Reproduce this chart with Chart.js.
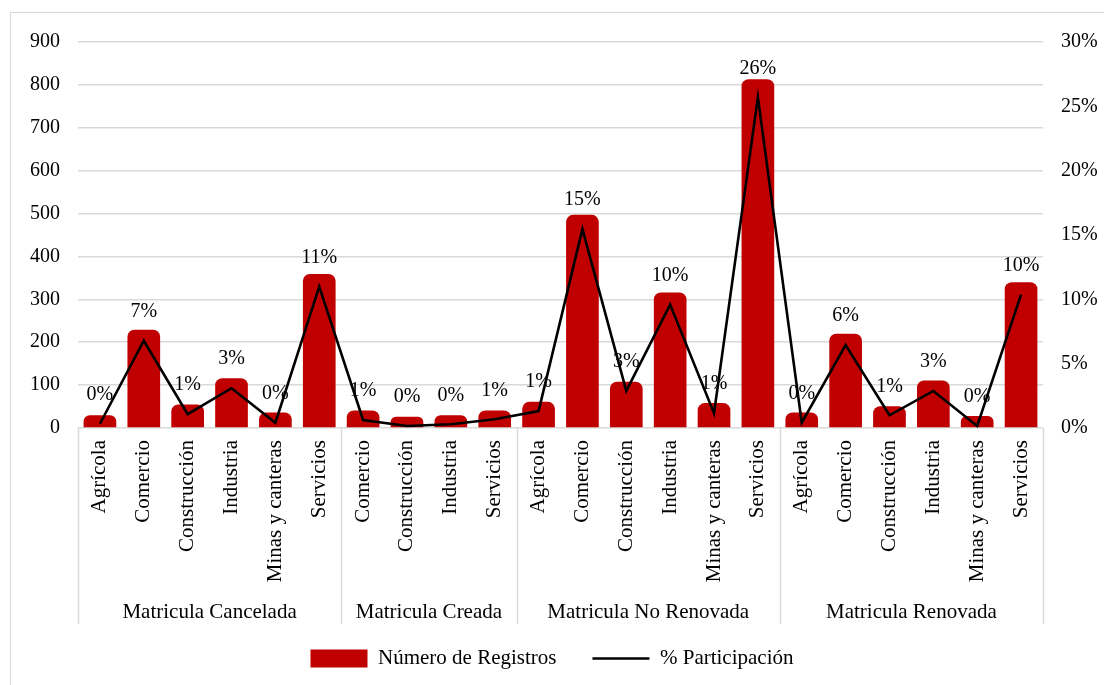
<!DOCTYPE html>
<html lang="es">
<head>
<meta charset="utf-8">
<title>Registros por estado de matrícula y sector</title>
<script src="https://cdn.jsdelivr.net/npm/chart.js@4/dist/chart.umd.min.js"></script>
<style>
  html, body { margin: 0; padding: 0; background: #fff; overflow: hidden; }
  .frame { position: absolute; left: 10px; top: 12px; width: 1110px; height: 700px; border: 1px solid #d9d9d9; }
  .wrap { position: absolute; left: 0; top: 0; width: 1104px; height: 685px; }
</style>
</head>
<body>
<div class="frame"></div>
<div class="wrap"><canvas id="graph" width="1104" height="685"></canvas></div>
<script>
// sectores dentro de cada estado de matrícula
const sectores = [
  'Agrícola', 'Comercio', 'Construcción', 'Industria', 'Minas y canteras', 'Servicios',
  'Comercio', 'Construcción', 'Industria', 'Servicios',
  'Agrícola', 'Comercio', 'Construcción', 'Industria', 'Minas y canteras', 'Servicios',
  'Agrícola', 'Comercio', 'Construcción', 'Industria', 'Minas y canteras', 'Servicios',
];
const estados = ['Matricula Cancelada', 'Matricula Creada', 'Matricula No Renovada', 'Matricula Renovada'];
const sectoresPorEstado = [6, 4, 6, 6];

const registros = [30, 229, 55, 116, 36, 359, 41, 26, 30, 41, 61, 497, 108, 316, 58, 813, 36, 220, 51, 111, 28, 340];
const participacion = [
  0.0033, 0.0678, 0.0107, 0.0309, 0.0041, 0.1099,
  0.0062, 0.0016, 0.0029, 0.0068,
  0.0132, 0.1546, 0.0288, 0.0959, 0.0115, 0.2570,
  0.0041, 0.0644, 0.0099, 0.0288, 0.0016, 0.1037,
];

const ticksRegistros = [0, 900, 100];
const ticksPct = [0, 0.3, 0.05];

const FONT = "'Liberation Serif', 'Times New Roman', serif";
const GRID = '#d9d9d9';
const pct = (v) => `${Math.round(v * 100)}%`;

Chart.defaults.font.family = FONT;
Chart.defaults.color = '#000';

// etiquetas de porcentaje sobre la línea
const pctLabels = {
  id: 'pctLabels',
  afterDatasetsDraw(chart) {
    const meta = chart.getDatasetMeta(1);
    const { ctx } = chart;
    ctx.save();
    ctx.font = `20px ${FONT}`;
    ctx.fillStyle = '#000';
    ctx.textAlign = 'center';
    ctx.textBaseline = 'middle';
    meta.data.forEach((pt, i) => {
      ctx.fillText(pct(participacion[i]), pt.x, pt.y - 29);
    });
    ctx.restore();
  },
};

// segundo nivel del eje x: estados y separadores
const groupAxis = {
  id: 'groupAxis',
  afterDraw(chart) {
    const { ctx, chartArea } = chart;
    const x = chart.scales.x;
    const top = chartArea.bottom;
    const bottom = top + 196;
    const edges = [x.left];
    let idx = 0;
    sectoresPorEstado.forEach((n, g) => {
      idx += n;
      if (g < sectoresPorEstado.length - 1) {
        edges.push((x.getPixelForValue(idx - 1) + x.getPixelForValue(idx)) / 2);
      }
    });
    edges.push(x.right);

    ctx.save();
    ctx.strokeStyle = GRID;
    ctx.lineWidth = 1.5;
    edges.forEach((ex) => {
      ctx.beginPath();
      ctx.moveTo(Math.round(ex) + 0.5, top);
      ctx.lineTo(Math.round(ex) + 0.5, bottom);
      ctx.stroke();
    });
    ctx.font = `21px ${FONT}`;
    ctx.fillStyle = '#000';
    ctx.textAlign = 'center';
    ctx.textBaseline = 'middle';
    estados.forEach((name, g) => {
      ctx.fillText(name, (edges[g] + edges[g + 1]) / 2, top + 184);
    });
    ctx.restore();
  },
};

new Chart(document.getElementById('graph').getContext('2d'), {
  data: {
    labels: sectores,
    datasets: [
      {
        type: 'bar',
        label: 'Número de Registros',
        data: registros,
        backgroundColor: '#c00000',
        borderRadius: { topLeft: 7, topRight: 7 },
        borderSkipped: 'bottom',
        barPercentage: 0.745,
        categoryPercentage: 1,
        pointStyle: 'rect',
        yAxisID: 'y',
        order: 1,
      },
      {
        type: 'line',
        label: '% Participación',
        data: participacion,
        borderColor: '#000',
        backgroundColor: '#000',
        borderWidth: 2.6,
        pointRadius: 0,
        tension: 0,
        pointStyle: 'line',
        yAxisID: 'y1',
        order: 0,
      },
    ],
  },
  options: {
    responsive: false,
    animation: false,
    layout: { padding: { top: 42, left: 0, right: 0, bottom: 6 } },
    plugins: {
      tooltip: { enabled: false },
      legend: {
        position: 'bottom',
        labels: {
          usePointStyle: true,
          pointStyleWidth: 57,
          boxHeight: 18,
          padding: 36,
          font: { size: 21 },
          color: '#000',
          sort: (a, b) => a.datasetIndex - b.datasetIndex,
        },
      },
    },
    scales: {
      x: {
        grid: { display: false },
        border: { display: false },
        ticks: {
          autoSkip: false,
          minRotation: 90,
          maxRotation: 90,
          padding: 4,
          font: { size: 21 },
        },
        afterFit(scale) { scale.height = 184; },
      },
      y: {
        position: 'left',
        min: ticksRegistros[0],
        max: ticksRegistros[1],
        ticks: { stepSize: ticksRegistros[2], padding: 18, font: { size: 20 } },
        grid: { color: GRID, lineWidth: 1.5, drawTicks: false },
        border: { display: false },
        afterFit(scale) { scale.width = 78; },
      },
      y1: {
        position: 'right',
        min: ticksPct[0],
        max: ticksPct[1],
        ticks: { stepSize: ticksPct[2], padding: 18, font: { size: 20 }, callback: pct },
        grid: { display: false, drawTicks: false },
        border: { display: false },
        afterFit(scale) { scale.width = 61; },
      },
    },
  },
  plugins: [pctLabels, groupAxis],
});
</script>
</body>
</html>
